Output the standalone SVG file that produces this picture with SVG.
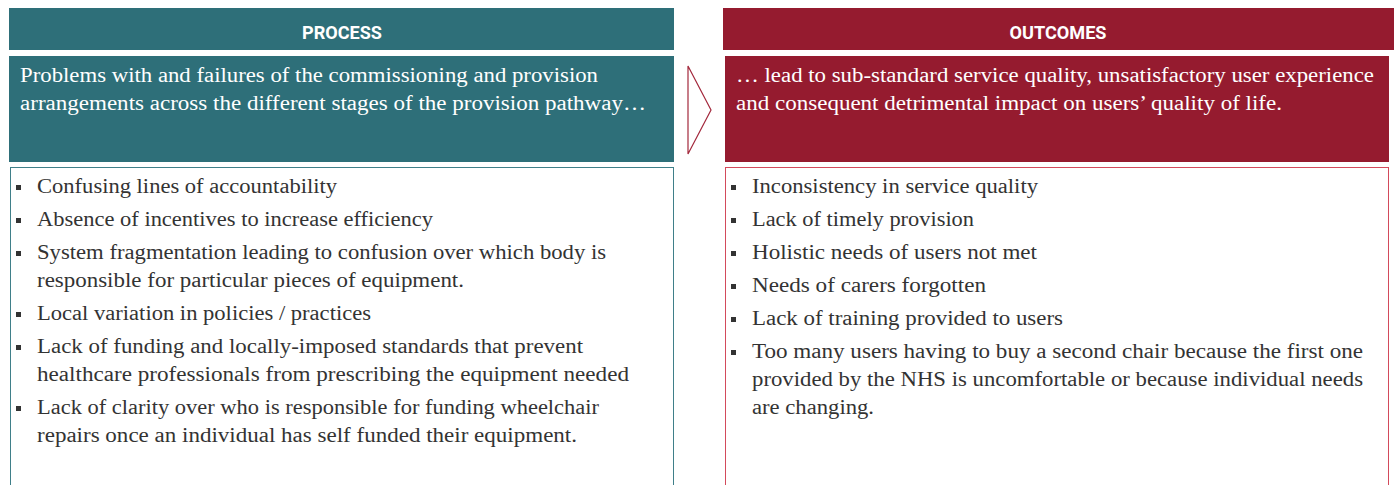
<svg xmlns="http://www.w3.org/2000/svg" width="1394" height="485" viewBox="0 0 1394 485">
<style>
.hd{font-family:Roboto,"Liberation Sans",sans-serif;font-weight:bold;font-size:19px;fill:#fff;}
.lead{font-family:"Liberation Serif",serif;font-size:20.5px;fill:#fff;}
.tx{font-family:"Liberation Serif",serif;font-size:20.5px;fill:#333;}
.teal{fill:#2e6f79;}
.red{fill:#951b2f;}
.bul{fill:#333;}
</style>
<rect width="1394" height="485" fill="#fff"/>
<g id="process-header">
<rect class="teal" x="9" y="8" width="665" height="42"/>
<text class="hd" x="342" y="38.5" text-anchor="middle" textLength="80" lengthAdjust="spacingAndGlyphs">PROCESS</text>
</g>
<g id="process-summary">
<rect class="teal" x="9" y="56" width="665" height="106"/>
<text class="lead" x="20" y="82" textLength="578" lengthAdjust="spacingAndGlyphs">Problems with and failures of the commissioning and provision</text>
<text class="lead" x="20" y="110" textLength="626" lengthAdjust="spacingAndGlyphs">arrangements across the different stages of the provision pathway…</text>
</g>
<g id="process-list">
<rect x="10.5" y="167.5" width="663" height="330" fill="#fff" stroke="#3f7f89" stroke-width="1"/>
<rect class="bul" x="16" y="185" width="5" height="5"/>
<text class="tx" x="37" y="193" textLength="300" lengthAdjust="spacingAndGlyphs">Confusing lines of accountability</text>
<rect class="bul" x="16" y="218" width="5" height="5"/>
<text class="tx" x="37" y="226" textLength="396" lengthAdjust="spacingAndGlyphs">Absence of incentives to increase efficiency</text>
<rect class="bul" x="16" y="251" width="5" height="5"/>
<text class="tx" x="37" y="259" textLength="569" lengthAdjust="spacingAndGlyphs">System fragmentation leading to confusion over which body is</text>
<text class="tx" x="37" y="287" textLength="427" lengthAdjust="spacingAndGlyphs">responsible for particular pieces of equipment.</text>
<rect class="bul" x="16" y="312" width="5" height="5"/>
<text class="tx" x="37" y="320" textLength="334" lengthAdjust="spacingAndGlyphs">Local variation in policies / practices</text>
<rect class="bul" x="16" y="345" width="5" height="5"/>
<text class="tx" x="37" y="353" textLength="546" lengthAdjust="spacingAndGlyphs">Lack of funding and locally-imposed standards that prevent</text>
<text class="tx" x="37" y="381" textLength="592" lengthAdjust="spacingAndGlyphs">healthcare professionals from prescribing the equipment needed</text>
<rect class="bul" x="16" y="406" width="5" height="5"/>
<text class="tx" x="37" y="414" textLength="562" lengthAdjust="spacingAndGlyphs">Lack of clarity over who is responsible for funding wheelchair</text>
<text class="tx" x="37" y="442" textLength="540" lengthAdjust="spacingAndGlyphs">repairs once an individual has self funded their equipment.</text>
</g>
<g id="connectors">
<polygon points="688,66 711,110 688,154" fill="#fff" stroke="#a3283c" stroke-width="1.2" stroke-linejoin="miter"/>
</g>
<g id="outcomes-header">
<rect class="red" x="723" y="8" width="671" height="42"/>
<text class="hd" x="1058" y="38.5" text-anchor="middle" textLength="97" lengthAdjust="spacingAndGlyphs">OUTCOMES</text>
</g>
<g id="outcomes-summary">
<rect class="red" x="725" y="56" width="664" height="106"/>
<text class="lead" x="736" y="82" textLength="638" lengthAdjust="spacingAndGlyphs">… lead to sub-standard service quality, unsatisfactory user experience</text>
<text class="lead" x="736" y="110" textLength="546" lengthAdjust="spacingAndGlyphs">and consequent detrimental impact on users’ quality of life.</text>
</g>
<g id="outcomes-list">
<rect x="725.5" y="167.5" width="663" height="330" fill="#fff" stroke="#d34a5b" stroke-width="1"/>
<rect class="bul" x="731" y="185" width="5" height="5"/>
<text class="tx" x="752" y="193" textLength="286" lengthAdjust="spacingAndGlyphs">Inconsistency in service quality</text>
<rect class="bul" x="731" y="218" width="5" height="5"/>
<text class="tx" x="752" y="226" textLength="222" lengthAdjust="spacingAndGlyphs">Lack of timely provision</text>
<rect class="bul" x="731" y="251" width="5" height="5"/>
<text class="tx" x="752" y="259" textLength="285" lengthAdjust="spacingAndGlyphs">Holistic needs of users not met</text>
<rect class="bul" x="731" y="284" width="5" height="5"/>
<text class="tx" x="752" y="292" textLength="234" lengthAdjust="spacingAndGlyphs">Needs of carers forgotten</text>
<rect class="bul" x="731" y="317" width="5" height="5"/>
<text class="tx" x="752" y="325" textLength="311" lengthAdjust="spacingAndGlyphs">Lack of training provided to users</text>
<rect class="bul" x="731" y="350" width="5" height="5"/>
<text class="tx" x="752" y="358" textLength="611" lengthAdjust="spacingAndGlyphs">Too many users having to buy a second chair because the first one</text>
<text class="tx" x="752" y="386" textLength="611" lengthAdjust="spacingAndGlyphs">provided by the NHS is uncomfortable or because individual needs</text>
<text class="tx" x="752" y="414" textLength="122" lengthAdjust="spacingAndGlyphs">are changing.</text>
</g>
</svg>
